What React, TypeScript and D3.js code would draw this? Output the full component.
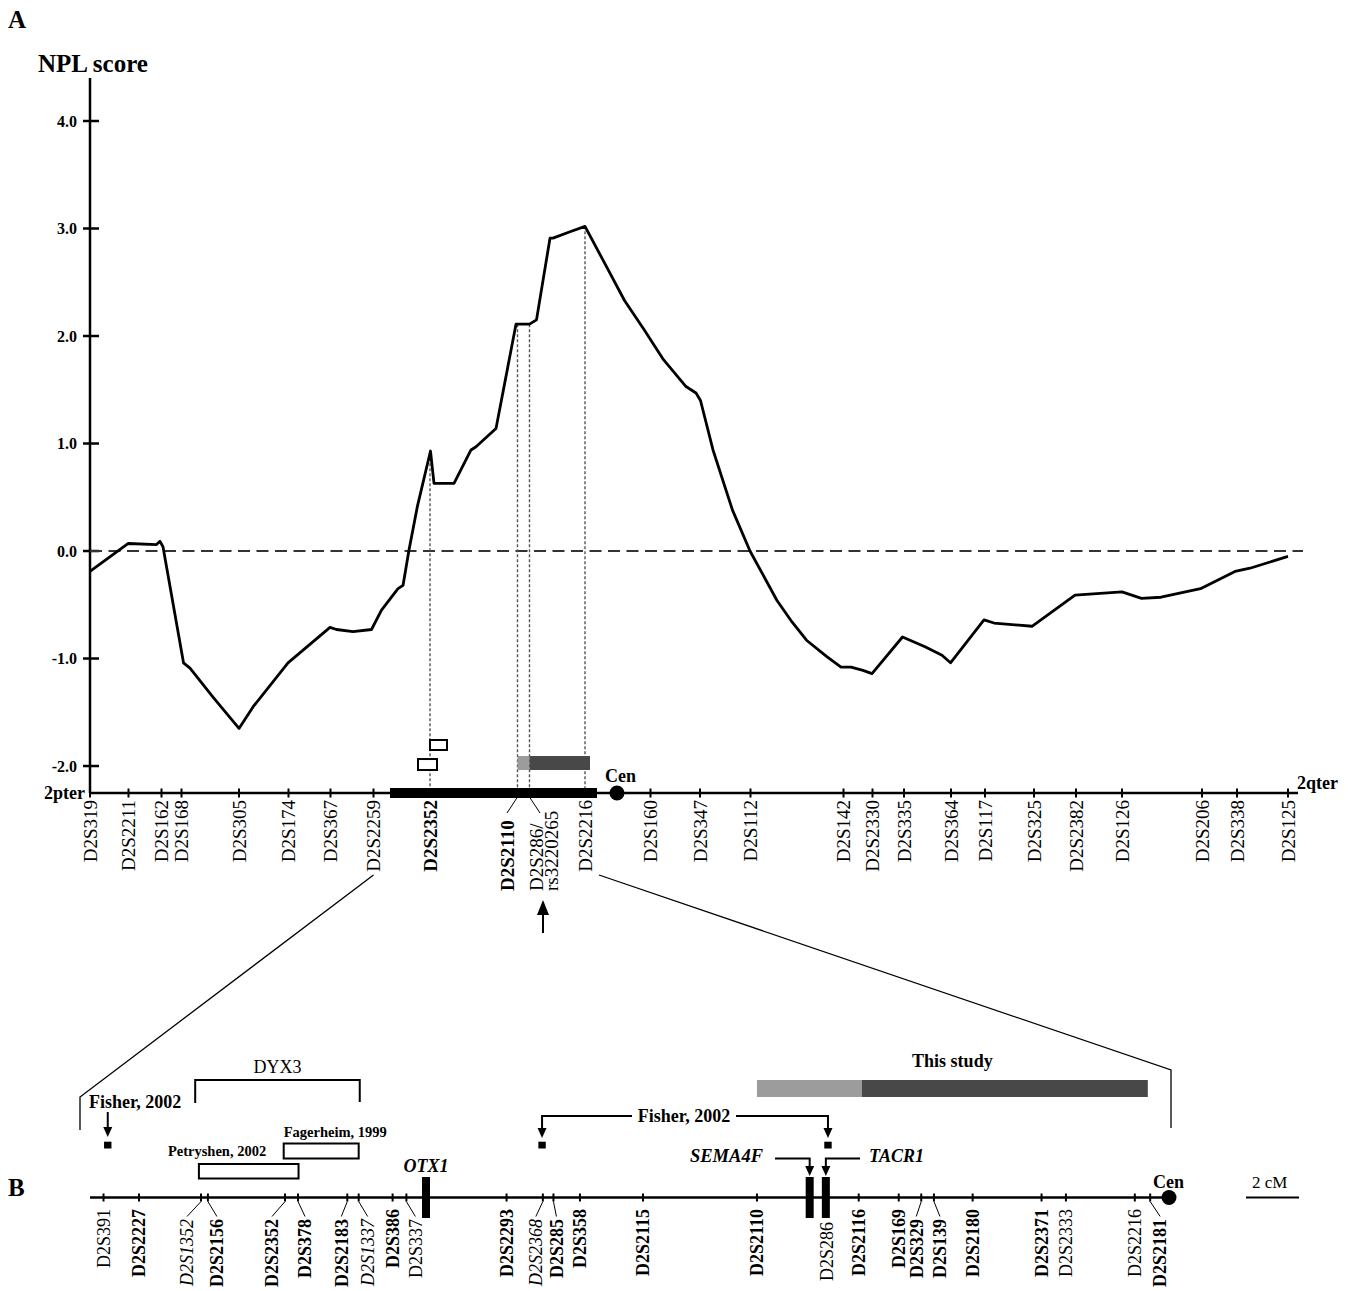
import React from 'react';
import * as d3 from 'd3';

// ---------- Panel A data ----------
const curvePos = [0,7.66,13.3,14.0,14.6,18.7,20.0,24.6,29.8,32.6,39.6,48.0,49.3,52.6,56.3,58.3,61.6,62.6,63.8,65.5,68.1,68.8,72.8,76.2,77.2,81.2,85.2,87.9,89.3,92.0,92.6,96.0,99.0,102.9,106.9,110.8,114.7,119.2,121.2,122.1,124.6,128.5,132.0,137.4,140.4,143.3,147.3,150.2,152.2,154.6,156.4,162.5,167.0,170.4,172.1,178.8,180.8,188.4,197.0,206.4,210.3,214.2,222.1,229.0,232.0,239.6];
const nplScore = [-0.19,0.07,0.06,0.09,0.04,-1.04,-1.09,-1.36,-1.65,-1.45,-1.04,-0.71,-0.73,-0.75,-0.73,-0.55,-0.35,-0.32,0.01,0.42,0.93,0.63,0.63,0.94,0.97,1.14,2.11,2.11,2.15,2.91,2.91,2.97,3.02,2.68,2.33,2.06,1.78,1.53,1.47,1.40,0.94,0.38,0.0,-0.46,-0.66,-0.83,-0.98,-1.08,-1.08,-1.11,-1.14,-0.80,-0.89,-0.97,-1.04,-0.64,-0.67,-0.70,-0.41,-0.38,-0.44,-0.43,-0.35,-0.19,-0.16,-0.05];
const yTickValues = [4, 3, 2, 1, 0, -1, -2];
const yTickLabels = ['4.0', '3.0', '2.0', '1.0', '0.0', '-1.0', '-2.0'];
const markersA = ['D2S319','D2S2211','D2S162','D2S168','D2S305','D2S174','D2S367','D2S2259','D2S2352','D2S2110','D2S286','D2S2216','D2S160','D2S347','D2S112','D2S142','D2S2330','D2S335','D2S364','D2S117','D2S325','D2S2382','D2S126','D2S206','D2S338','D2S125'];
const markersAPos = [0,7.7,14.3,18.3,29.8,39.7,48.1,56.7,68,85.5,87.9,99,112.1,122,132.1,150.7,156.5,162.8,172.2,179,188.8,197.2,206.4,222.4,229.4,239.6];
const centromereA = 105.4;
const regionA = [60, 101.4];
const dottedMarkersA = ['D2S2352', 'D2S2110', 'D2S286', 'D2S2216'];
const studyLightA = [85.5, 87.9];
const studyDarkA = [87.9, 100];

// ---------- Panel B data ----------
const markersB = ['D2S391','D2S2227','D2S1352','D2S2156','D2S2352','D2S378','D2S2183','D2S1337','D2S386','D2S337','D2S2293','D2S2368','D2S285','D2S358','D2S2115','D2S2110','D2S286','D2S2116','D2S169','D2S329','D2S139','D2S2180','D2S2371','D2S2333','D2S2216','D2S2181'];
const markersBPos = [0.51,1.85,4.19,4.45,7.36,7.85,9.71,10.14,11.42,11.94,15.72,17.09,17.49,18.49,20.87,25.17,27.79,29.01,30.52,31.37,31.85,33.31,35.91,36.83,39.43,40.01];
const centromereB = 40.72;
const genesB = ['OTX1', 'SEMA4F', 'TACR1'];
const genesBPos = [12.68, 27.16, 27.77];
const fisherPos = [0.67, 17.06, 27.85];
const dyx3Range = [3.97, 10.18];
const petryshenRange = [4.11, 7.87];
const fagerheimRange = [7.31, 10.14];
const thisStudyLight = [25.17, 29.13];
const thisStudyDark = [29.13, 39.92];

// ---------- styles / layout (not data) ----------
const boldA = new Set(['D2S2352', 'D2S2110']);
const styleB: Record<string, string> = {
  D2S391: 'n', D2S2227: 'b', D2S1352: 'i', D2S2156: 'b', D2S2352: 'b', D2S378: 'b', D2S2183: 'b',
  D2S1337: 'i', D2S386: 'b', D2S337: 'n', D2S2293: 'b', D2S2368: 'i', D2S285: 'b', D2S358: 'b',
  D2S2115: 'b', D2S2110: 'b', D2S286: 'n', D2S2116: 'b', D2S169: 'b', D2S329: 'b', D2S139: 'b',
  D2S2180: 'b', D2S2371: 'b', D2S2333: 'n', D2S2216: 'n', D2S2181: 'b',
};
const shiftB: Record<string, number> = {
  D2S1352: -14, D2S2156: 9, D2S2352: -13, D2S378: 7, D2S2183: -6, D2S1337: 9, D2S337: 9,
  D2S2368: -7, D2S285: 3, D2S329: -5, D2S139: 6, D2S2181: 10,
};

const W = 1351, H = 1291;
const serif = "'Liberation Serif','Times New Roman',Times,serif";

export default function App() {
  const xA = d3.scaleLinear().domain([0, 242]).range([90, 1300]);
  const yA = d3.scaleLinear().domain([-2.251, 4.4]).range([793, 78]);
  const xB = d3.scaleLinear().domain([0, 40.72]).range([90, 1169]);
  const axisA = yA.range()[0];
  const axisB = 1197.5;

  const line = d3.line<number>().x((_, i) => xA(curvePos[i])).y(d => yA(d)).curve(d3.curveLinear);
  const curveAt = (p: number) => {
    const interp = d3.scaleLinear().domain(curvePos).range(nplScore);
    return interp(p);
  };
  const posA = (name: string) => markersAPos[markersA.indexOf(name)];

  const labelSizeA = 19;
  const labelSizeB = 18;

  const arrowDown = (x: number, tipY: number, key: string) => (
    <path key={key} d={`M${x - 4.5},${tipY - 10} L${x + 4.5},${tipY - 10} L${x},${tipY} Z`} fill="#000" />
  );

  return (
    <svg width={W} height={H} style={{ position: 'absolute', left: 0, top: 0, background: '#fff' }} fontFamily={serif}>
      {/* ================= PANEL A ================= */}
      <text x={8} y={28} fontSize={25} fontWeight="bold">A</text>
      <text x={38} y={72} fontSize={25} fontWeight="bold">NPL score</text>

      {/* y axis */}
      <line x1={90} x2={90} y1={78} y2={axisA} stroke="#000" strokeWidth={2.5} />
      {yTickValues.map((v, i) => (
        <g key={'yt' + i}>
          <line x1={83} x2={99} y1={yA(v)} y2={yA(v)} stroke="#000" strokeWidth={2.5} />
          <text x={77} y={yA(v)} dy="0.35em" textAnchor="end" fontSize={16} fontWeight="bold">{yTickLabels[i]}</text>
        </g>
      ))}

      {/* zero reference */}
      <line x1={90} x2={1303} y1={yA(0)} y2={yA(0)} stroke="#333" strokeWidth={2.2} strokeDasharray="12,6.5" />

      {/* dotted verticals */}
      {dottedMarkersA.map(m => (
        <line key={'dv' + m} x1={xA(posA(m))} x2={xA(posA(m))} y1={yA(curveAt(posA(m)))} y2={axisA}
          stroke="#555" strokeWidth={1.4} strokeDasharray="3,2" />
      ))}

      {/* curve */}
      <path d={line(nplScore) || ''} fill="none" stroke="#000" strokeWidth={2.8} strokeLinejoin="round" />

      {/* open rectangles */}
      <rect x={xA(65.6)} y={yA(-1.935)} width={xA(69.4) - xA(65.6)} height={yA(-2.037) - yA(-1.935)} fill="#fff" stroke="#000" strokeWidth={2} />
      <rect x={xA(68)} y={yA(-1.758)} width={xA(71.4) - xA(68)} height={yA(-1.851) - yA(-1.758)} fill="#fff" stroke="#000" strokeWidth={2} />

      {/* this study bars in A */}
      <rect x={xA(studyLightA[0])} y={yA(-1.907)} width={xA(studyLightA[1]) - xA(studyLightA[0])} height={yA(-2.037) - yA(-1.907)} fill="#9c9c9c" />
      <rect x={xA(studyDarkA[0])} y={yA(-1.907)} width={xA(studyDarkA[1]) - xA(studyDarkA[0])} height={yA(-2.037) - yA(-1.907)} fill="#484848" />

      {/* chromosome axis */}
      <line x1={90} x2={1298} y1={axisA} y2={axisA} stroke="#000" strokeWidth={2.5} />
      <rect x={xA(regionA[0])} y={axisA - 5} width={xA(regionA[1]) - xA(regionA[0])} height={10} fill="#000" />
      {markersAPos.map((p, i) => (
        <line key={'ta' + i} x1={xA(p)} x2={xA(p)} y1={axisA - 4.5} y2={axisA + 4.5} stroke="#000" strokeWidth={2} />
      ))}
      <circle cx={xA(centromereA)} cy={axisA} r={7.5} fill="#000" />
      <text x={xA(centromereA) - 12} y={782} fontSize={18} fontWeight="bold">Cen</text>
      <text x={85} y={799} textAnchor="end" fontSize={18} fontWeight="bold">2pter</text>
      <text x={1297} y={789} fontSize={18} fontWeight="bold">2qter</text>

      {/* marker labels A */}
      {markersA.map((m, i) => {
        const x = xA(markersAPos[i]);
        if (m === 'D2S2110') {
          return (
            <g key={'la' + m}>
              <line x1={x} x2={x - 10.5} y1={axisA + 4} y2={axisA + 20} stroke="#000" strokeWidth={1} />
              <text transform={`translate(${x - 10.5},891) rotate(-90)`} dy="0.35em" textAnchor="start" fontSize={labelSizeA} fontWeight="bold">{m}</text>
            </g>
          );
        }
        if (m === 'D2S286') {
          return (
            <g key={'la' + m}>
              <line x1={x} x2={x + 10.5} y1={axisA + 4} y2={axisA + 20} stroke="#000" strokeWidth={1} />
              <text transform={`translate(${x + 6.5},891) rotate(-90)`} dy="0.35em" textAnchor="start" fontSize={labelSizeA}>D2S286/</text>
              <text transform={`translate(${x + 22},891) rotate(-90)`} dy="0.35em" textAnchor="start" fontSize={labelSizeA}>rs3220265</text>
            </g>
          );
        }
        return (
          <text key={'la' + m} transform={`translate(${x},800) rotate(-90)`} dy="0.35em" textAnchor="end"
            fontSize={labelSizeA} fontWeight={boldA.has(m) ? 'bold' : 'normal'}>{m}</text>
        );
      })}

      {/* arrow under rs3220265 */}
      <line x1={543} x2={543} y1={933} y2={910} stroke="#000" strokeWidth={2} />
      <path d="M537,915 L549,915 L543,900 Z" fill="#000" />

      {/* zoom lines */}
      <polyline points={`${xA(posA('D2S2259'))},875 80,1097 80,1130`} fill="none" stroke="#000" strokeWidth={1.3} />
      <polyline points={`${xA(posA('D2S2216')) + 14},875 1171,1070 1171,1128`} fill="none" stroke="#000" strokeWidth={1.3} />

      {/* ================= PANEL B ================= */}
      <text x={8} y={1196} fontSize={25} fontWeight="bold">B</text>

      {/* This study */}
      <text x={(xB(thisStudyLight[0]) + xB(thisStudyDark[1])) / 2} y={1067} textAnchor="middle" fontSize={18} fontWeight="bold">This study</text>
      <rect x={xB(thisStudyLight[0])} y={1080} width={xB(thisStudyLight[1]) - xB(thisStudyLight[0])} height={17} fill="#9c9c9c" />
      <rect x={xB(thisStudyDark[0])} y={1080} width={xB(thisStudyDark[1]) - xB(thisStudyDark[0])} height={17} fill="#484848" />

      {/* DYX3 bracket */}
      <text x={(xB(dyx3Range[0]) + xB(dyx3Range[1])) / 2} y={1073} textAnchor="middle" fontSize={18}>DYX3</text>
      <polyline points={`${xB(dyx3Range[0])},1103 ${xB(dyx3Range[0])},1080 ${xB(dyx3Range[1])},1080 ${xB(dyx3Range[1])},1102`} fill="none" stroke="#000" strokeWidth={2} />

      {/* Fagerheim / Petryshen boxes */}
      <text x={xB(fagerheimRange[0])} y={1137} fontSize={14.5} fontWeight="bold">Fagerheim, 1999</text>
      <rect x={xB(fagerheimRange[0])} y={1143.5} width={xB(fagerheimRange[1]) - xB(fagerheimRange[0])} height={15} fill="#fff" stroke="#000" strokeWidth={2} />
      <text x={xB(petryshenRange[0]) - 31} y={1156} fontSize={14.5} fontWeight="bold">Petryshen, 2002</text>
      <rect x={xB(petryshenRange[0])} y={1164} width={xB(petryshenRange[1]) - xB(petryshenRange[0])} height={14.5} fill="#fff" stroke="#000" strokeWidth={2} />

      {/* Fisher 2002 left */}
      <text x={89} y={1108} fontSize={18} fontWeight="bold">Fisher, 2002</text>
      <line x1={xB(fisherPos[0])} x2={xB(fisherPos[0])} y1={1112} y2={1130} stroke="#000" strokeWidth={2} />
      {arrowDown(xB(fisherPos[0]), 1137, 'fa0')}

      {/* Fisher 2002 middle bracket */}
      <text x={684} y={1122} textAnchor="middle" fontSize={18} fontWeight="bold">Fisher, 2002</text>
      <polyline points={`${xB(fisherPos[1])},1130 ${xB(fisherPos[1])},1116 632,1116`} fill="none" stroke="#000" strokeWidth={2} />
      <polyline points={`736,1116 ${xB(fisherPos[2])},1116 ${xB(fisherPos[2])},1130`} fill="none" stroke="#000" strokeWidth={2} />
      {arrowDown(xB(fisherPos[1]), 1138, 'fa1')}
      {arrowDown(xB(fisherPos[2]), 1138, 'fa2')}
      {fisherPos.map((p, i) => (
        <rect key={'fs' + i} x={xB(p) - 3.7} y={1141.7} width={7.4} height={6.8} fill="#000" />
      ))}

      {/* gene labels & arrows */}
      <text x={xB(genesBPos[0])} y={1172} textAnchor="middle" fontSize={18} fontWeight="bold" fontStyle="italic">OTX1</text>
      <text x={763} y={1162} textAnchor="end" fontSize={18.5} fontWeight="bold" fontStyle="italic">SEMA4F</text>
      <polyline points={`775,1158.5 ${xB(genesBPos[1])},1158.5 ${xB(genesBPos[1])},1168`} fill="none" stroke="#000" strokeWidth={2} />
      {arrowDown(xB(genesBPos[1]), 1176, 'ga1')}
      <text x={869} y={1162} fontSize={18} fontWeight="bold" fontStyle="italic">TACR1</text>
      <polyline points={`860,1158.5 ${xB(genesBPos[2])},1158.5 ${xB(genesBPos[2])},1168`} fill="none" stroke="#000" strokeWidth={2} />
      {arrowDown(xB(genesBPos[2]), 1176, 'ga2')}

      {/* axis B */}
      <line x1={90} x2={xB(centromereB)} y1={axisB} y2={axisB} stroke="#000" strokeWidth={2.5} />
      {markersB.map((m, i) => m === 'D2S286' ? null : (
        <line key={'tb' + m} x1={xB(markersBPos[i])} x2={xB(markersBPos[i])} y1={axisB - 4} y2={axisB + 4} stroke="#000" strokeWidth={2} />
      ))}
      {genesB.map((g, i) => (
        <rect key={'gb' + g} x={xB(genesBPos[i]) - 4} y={1177} width={8} height={41} fill="#000" />
      ))}
      <circle cx={xB(centromereB)} cy={axisB} r={7.5} fill="#000" />
      <text x={xB(centromereB) - 16} y={1188} fontSize={18} fontWeight="bold">Cen</text>

      {/* scale bar */}
      <text x={1252} y={1188} fontSize={17}>2 cM</text>
      <line x1={1246} x2={1246 + xB(2) - xB(0)} y1={axisB} y2={axisB} stroke="#000" strokeWidth={2} />

      {/* marker labels B */}
      {markersB.map((m, i) => {
        const x = xB(markersBPos[i]);
        const s = shiftB[m] || 0;
        const st = styleB[m];
        const top = m === 'D2S286' ? 1222 : (s !== 0 ? 1219 : 1209);
        return (
          <g key={'lb' + m}>
            {s !== 0 && (
              <line x1={x} x2={x + s} y1={axisB + 4} y2={axisB + 19} stroke="#000" strokeWidth={1} />
            )}
            <text transform={`translate(${x + s},${top}) rotate(-90)`} dy="0.35em" textAnchor="end"
              fontSize={labelSizeB} fontWeight={st === 'b' ? 'bold' : 'normal'} fontStyle={st === 'i' ? 'italic' : 'normal'}>{m}</text>
          </g>
        );
      })}
    </svg>
  );
}
